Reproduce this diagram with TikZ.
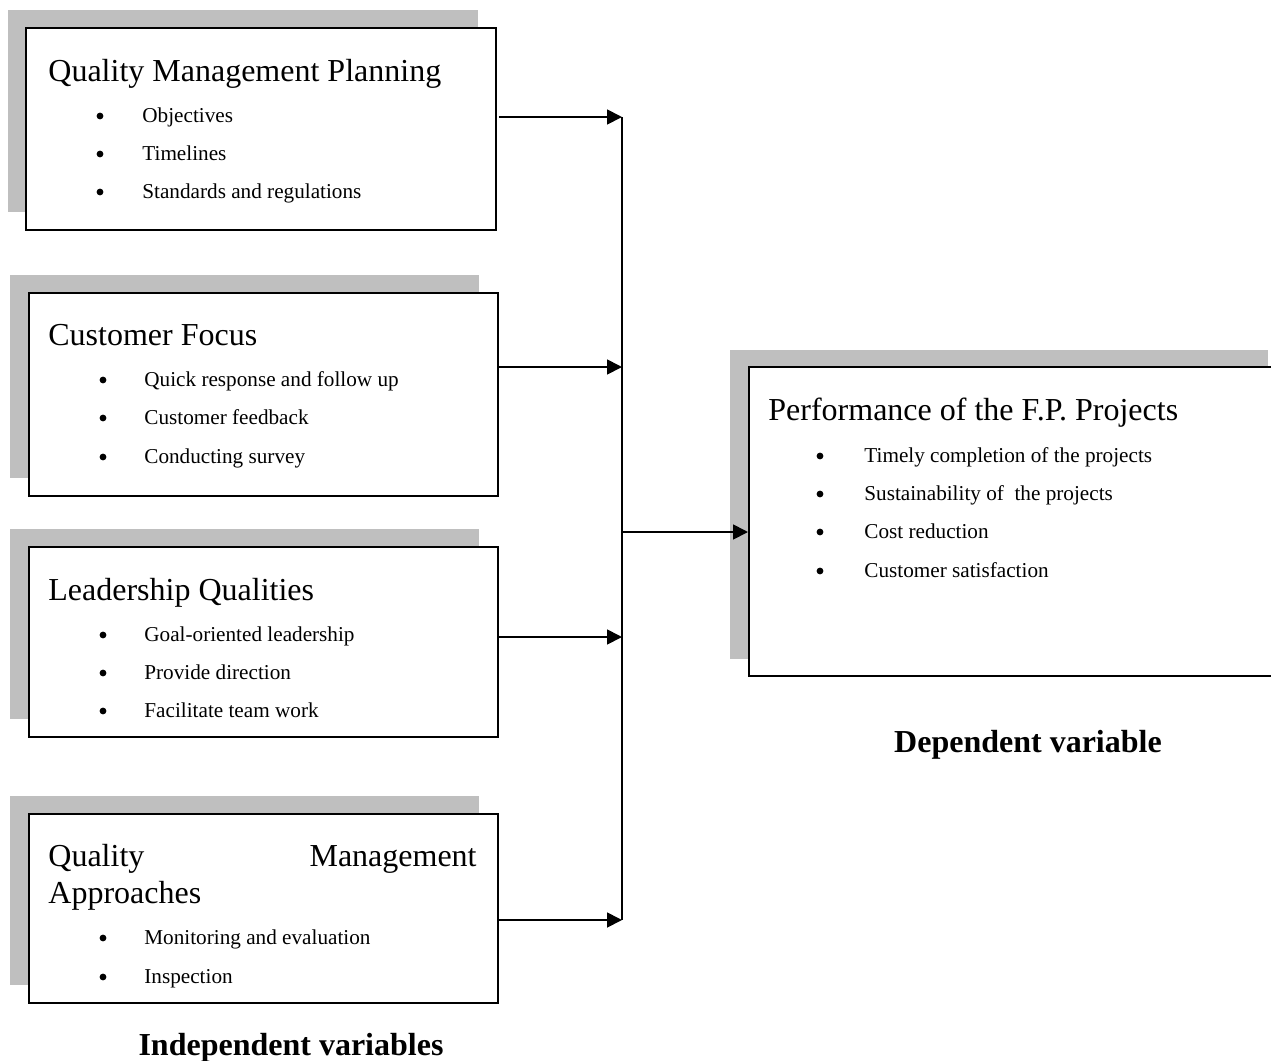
\documentclass[tikz,border=0pt]{standalone}
\usepackage{fontspec}
\setmainfont{Liberation Serif}
\usetikzlibrary{arrows.meta,calc}
\begin{document}
\begin{tikzpicture}[x=0.5pt,y=-0.5pt,
  box/.style={draw,line width=0.9pt,fill=white,inner sep=0pt,anchor=north west},
  shade/.style={fill=black!25,draw=none},
  head/.style={anchor=base west,inner sep=0pt,font=\fontsize{16}{19}\selectfont},
  item/.style={anchor=base west,inner sep=0pt,font=\fontsize{10.6}{12}\selectfont},
  dot/.style={circle,fill=black,inner sep=0pt,minimum size=3.4pt},
  lab/.style={anchor=base,inner sep=0pt,font=\fontsize{16}{19}\selectfont\bfseries},
  wire/.style={line width=0.9pt},
  conn/.style={line width=0.9pt,-{Triangle[length=7.5pt,width=7.5pt]}}]
\useasboundingbox (0,0) rectangle (1271,1061);
% shadows
\fill[shade] (8,10) rectangle (478,212);
\fill[shade] (10,275) rectangle (479,478);
\fill[shade] (10,529) rectangle (479,719);
\fill[shade] (10,796) rectangle (479,985);
\fill[shade] (730,350) rectangle (1268,659);
% boxes
\node[box,minimum width=235pt,minimum height=101pt] (b1) at (25,27) {};
\node[box,minimum width=234.5pt,minimum height=101.5pt] (b2) at (28,292) {};
\node[box,minimum width=234.5pt,minimum height=95pt] (b3) at (28,546) {};
\node[box,minimum width=234.5pt,minimum height=94.5pt] (b4) at (28,813) {};
\node[box,minimum width=264pt,minimum height=154.5pt] (b5) at (748,366) {};
% box 1
\node[head] (t1) at (48,81) {Quality Management Planning};
\node[dot] (p11) at (100,116) {}; \node[item] (i11) at (142,122) {Objectives};
\node[dot] (p12) at (100,154) {}; \node[item] (i12) at (142,160) {Timelines};
\node[dot] (p13) at (100,192) {}; \node[item] (i13) at (142,198) {Standards and regulations};
% box 2
\node[head] (t2) at (48,345) {Customer Focus};
\node[dot] (p21) at (103,380) {}; \node[item] (i21) at (144,386) {Quick response and follow up};
\node[dot] (p22) at (103,418) {}; \node[item] (i22) at (144,424) {Customer feedback};
\node[dot] (p23) at (103,457) {}; \node[item] (i23) at (144,463) {Conducting survey};
% box 3
\node[head] (t3) at (48,600) {Leadership Qualities};
\node[dot] (p31) at (103,635) {}; \node[item] (i31) at (144,641) {Goal-oriented leadership};
\node[dot] (p32) at (103,673) {}; \node[item] (i32) at (144,679) {Provide direction};
\node[dot] (p33) at (103,711) {}; \node[item] (i33) at (144,717) {Facilitate team work};
% box 4
\node[head] (t4a) at (48,866) {Quality};
\node[head,anchor=base east] (t4b) at (477,866) {Management};
\node[head] (t4c) at (48,903) {Approaches};
\node[dot] (p41) at (103,938) {}; \node[item] (i41) at (144,944) {Monitoring and evaluation};
\node[dot] (p42) at (103,977) {}; \node[item] (i42) at (144,983) {Inspection};
% box 5
\node[head] (t5) at (768,420) {Performance of the F.P. Projects};
\node[dot] (p51) at (820,456) {}; \node[item] (i51) at (864,462) {Timely completion of the projects};
\node[dot] (p52) at (820,494) {}; \node[item] (i52) at (864,500) {Sustainability of\ \ the projects};
\node[dot] (p53) at (820,532) {}; \node[item] (i53) at (864,538) {Cost reduction};
\node[dot] (p54) at (820,571) {}; \node[item] (i54) at (864,577) {Customer satisfaction};
% labels
\node[lab] (ld) at (1028,752) {Dependent variable};
\node[lab] (li) at (291,1055) {Independent variables};
% connectors
\coordinate (j1) at (622,117);
\coordinate (j2) at (622,367);
\coordinate (j3) at (622,637);
\coordinate (j4) at (622,920);
\coordinate (jm) at (622,532);
\draw[wire] (j1) -- (j4);
\draw[conn] ($(b1.east |- j1)+(2,0)$) -- (j1);
\draw[conn] (b2.east |- j2) -- (j2);
\draw[conn] (b3.east |- j3) -- (j3);
\draw[conn] (b4.east |- j4) -- (j4);
\draw[conn] (jm) -- (b5.west |- jm);
\end{tikzpicture}
\end{document}
